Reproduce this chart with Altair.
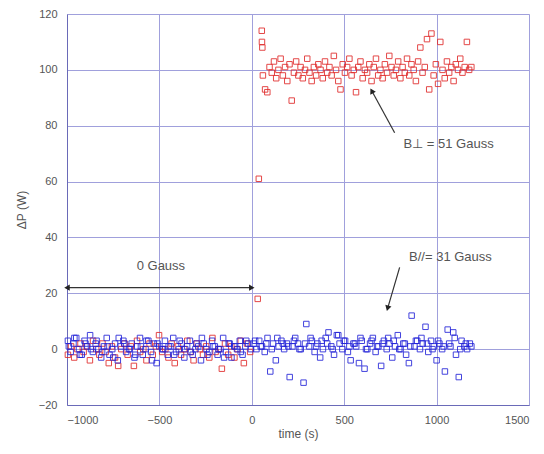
import altair as alt
import pandas as pd

# ---- data ----
red_pre_t = [-995,-978,-961,-944,-927,-910,-893,-876,-859,-842,-825,-808,-791,-774,-757,-740,-723,-706,-689,-672,
             -655,-638,-621,-604,-587,-570,-553,-536,-519,-502,-485,-468,-451,-434,-417,-400,-383,-366,-349,-332,
             -315,-298,-281,-264,-247,-230,-213,-196,-179,-162,-145,-128,-111,-94,-77,-60,-43,-26,-9]
red_pre_v = [-2,1,-3,0,2,-1,1,-4,3,0,-2,2,-1,-5,1,-3,-6,0,2,-2,
             1,-6,3,-1,0,-4,2,-2,1,5,-1,0,-3,2,-5,1,-2,0,3,-1,
             -4,2,0,-2,1,-3,4,-1,0,-7,2,-2,1,-3,0,3,-5,2,-1]

red_jump_t = [32, 38, 54, 55, 57]
red_jump_v = [18, 61, 114, 110, 108]

red_post_t = [60,72,84,96,108,120,132,144,156,168,180,192,204,216,228,240,252,264,276,288,
              300,312,324,336,348,360,372,384,396,408,420,432,444,456,468,480,492,504,516,528,
              540,552,564,576,588,600,612,624,636,648,660,672,684,696,708,720,732,744,756,768,
              780,792,804,816,828,840,852,864,876,888,900,912,924,936,948,960,972,984,996,1008,
              1020,1032,1044,1056,1068,1080,1092,1104,1116,1128,1140,1152,1164,1176,1188]
red_post_v = [98,93,92,101,99,103,97,100,104,98,
              101,96,102,89,99,103,98,101,97,100,
              104,99,96,101,98,102,100,97,103,99,
              101,98,105,100,96,93,102,99,101,104,
              98,100,92,101,103,97,100,99,102,96,
              101,104,98,100,97,102,99,105,101,98,
              100,103,97,101,99,104,98,102,100,96,
              103,108,99,101,111,93,113,98,102,95,
              110,100,97,103,99,101,96,102,100,104,
              99,101,110,100,101]

blue_pre_t = [-995,-980,-965,-950,-935,-920,-905,-890,-875,-860,-845,-830,-815,-800,-785,-770,-755,-740,-725,-710,
              -695,-680,-665,-650,-635,-620,-605,-590,-575,-560,-545,-530,-515,-500,-485,-470,-455,-440,-425,-410,
              -395,-380,-365,-350,-335,-320,-305,-290,-275,-260,-245,-230,-215,-200,-185,-170,-155,-140,-125,-110,
              -95,-80,-65,-50,-35,-20,-5]
blue_pre_v = [3,-1,2,4,0,-2,3,1,5,-1,
              2,0,-3,1,4,-2,0,2,-4,1,
              3,-1,0,2,-3,1,4,-2,0,3,
              -1,2,-5,1,0,3,-2,1,4,-1,
              0,2,-3,1,3,-2,0,1,-4,2,
              0,-1,3,1,-2,0,4,-1,2,-3,
              1,0,3,-2,1,2,0]

blue_pre2_t = [-990,-960,-930,-900,-870,-840,-810,-780,-750,-720,-690,-660,-630,-600,-570,-540,-510,-480,-450,-420,
               -390,-360,-330,-300,-270,-240,-210,-180,-150,-120,-90,-60,-30]
blue_pre2_v = [1,4,-2,2,0,3,-1,1,-3,4,
               2,0,-2,1,3,-4,2,0,1,-2,
               3,0,-1,2,4,-2,1,0,-3,2,
               1,-1,3]

blue_post_t = [10,25,40,55,70,85,100,115,130,145,160,175,190,205,220,235,250,265,280,295,
               310,325,340,355,370,385,400,415,430,445,460,475,490,505,520,535,550,565,580,595,
               610,625,640,655,670,685,700,715,730,745,760,775,790,805,820,835,850,865,880,895,
               910,925,940,955,970,985,1000,1015,1030,1045,1060,1075,1090,1105,1120,1135,1150,1165,1180]
blue_post_v = [2,0,3,1,-1,4,-8,2,-4,1,
               3,0,2,-10,1,4,2,0,-12,9,
               1,3,-1,2,-3,0,4,6,1,-2,
               5,2,0,3,-1,-4,2,1,-5,3,
               -7,0,2,4,-1,1,-6,3,0,2,
               -3,1,5,0,2,-2,-5,12,1,3,
               0,2,8,-1,3,1,-4,2,0,-8,
               7,1,6,-2,-10,3,1,0,2]

blue_post2_t = [18,48,78,108,138,168,198,228,258,288,318,348,378,408,438,468,498,528,558,588,
                618,648,678,708,738,768,798,828,858,888,918,948,978,1008,1038,1068,1098,1128,1158,1188]
blue_post2_v = [3,1,2,0,4,2,1,3,0,2,
                4,1,3,2,0,5,3,1,2,4,
                0,3,1,2,4,3,0,2,1,3,
                4,2,0,3,1,2,4,0,2,1]

x_ticks = [-1000, -500, 0, 500, 1000, 1500]
y_ticks = [-20, 0, 20, 40, 60, 80, 100, 120]

rows = []
for t, v in zip(red_pre_t + red_jump_t + red_post_t, red_pre_v + red_jump_v + red_post_v):
    rows.append({"t": t, "p": v, "s": "red"})
for t, v in zip(blue_pre_t + blue_pre2_t + blue_post_t + blue_post2_t,
                blue_pre_v + blue_pre2_v + blue_post_v + blue_post2_v):
    rows.append({"t": t, "p": v, "s": "blue"})
pts = pd.DataFrame(rows)

grid_col = "#a0a0dc"
dom_col = "#6a6ab8"
txt_col = "#555555"
font = "Liberation Sans"

xs = alt.Scale(domain=[-1000, 1500], nice=False)
ys = alt.Scale(domain=[-20, 120], nice=False)

base = alt.Chart(pts).mark_point(shape="square", filled=False, size=30, strokeWidth=1, opacity=0.85).encode(
    x=alt.X("t:Q", scale=xs, title="time (s)",
            axis=alt.Axis(values=x_ticks, format="d", grid=True, gridColor=grid_col, gridWidth=1, ticks=False,
                          domainColor=dom_col, labelColor=txt_col, labelFont=font, labelFontSize=11,
                          labelPadding=9, titleFont=font, titleFontSize=12, titleFontWeight="normal",
                          titleColor=txt_col, titlePadding=3)),
    y=alt.Y("p:Q", scale=ys, title="ΔP (W)",
            axis=alt.Axis(values=y_ticks, format="d", grid=True, gridColor=grid_col, gridWidth=1, ticks=False,
                          domainColor=dom_col, labelColor=txt_col, labelFont=font, labelFontSize=11,
                          labelPadding=10, titleFont=font, titleFontSize=12, titleFontWeight="normal",
                          titleColor=txt_col, titlePadding=10)),
    color=alt.Color("s:N", scale=alt.Scale(domain=["red", "blue"], range=["#e02828", "#2222d8"]), legend=None),
    order=alt.value(0),
)

# annotations
ann_lines = pd.DataFrame({
    "x": [-1000, 773, 800], "x2": [0, 649, 735],
    "y": [22, 77.5, 29.3], "y2": [22, 92.5, 14.6],
})
lines = alt.Chart(ann_lines).mark_rule(color="#333333", strokeWidth=1.2).encode(
    x=alt.X("x:Q", scale=xs), x2="x2:Q", y=alt.Y("y:Q", scale=ys), y2="y2:Q")

heads = pd.DataFrame({"x": [-1000, 0, 649, 735], "y": [22, 22, 92.5, 14.6], "a": [270, 90, 331, 196]})
arrowheads = alt.Chart(heads).mark_point(shape="triangle-up", filled=True, color="#222222", size=40, opacity=1).encode(
    x=alt.X("x:Q", scale=xs), y=alt.Y("y:Q", scale=ys), angle=alt.Angle("a:Q", scale=None))

texts = pd.DataFrame({"x": [-492, 1065, 1075], "y": [29.6, 73.6, 32.9],
                      "label": ["0 Gauss", "B⊥ = 51 Gauss", "B//= 31 Gauss"]})
labels = alt.Chart(texts).mark_text(font=font, fontSize=13, color=txt_col).encode(
    x=alt.X("x:Q", scale=xs), y=alt.Y("y:Q", scale=ys), text="label:N")

chart = alt.layer(base, lines, arrowheads, labels).properties(
    width=462, height=391,
    autosize=alt.AutoSizeParams(type="none"),
    padding={"left": 67, "top": 14, "right": 15, "bottom": 49},
).configure_view(stroke=dom_col, strokeWidth=1.5).configure(background="white")

chart.save("out.html", embed_options={"renderer": "svg", "actions": False})
